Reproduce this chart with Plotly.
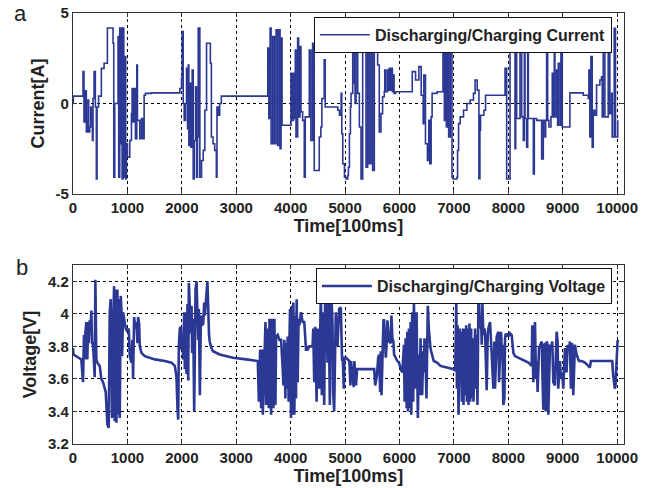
import plotly.graph_objects as go

# ---------------- data ----------------
time_current = [
    0, 5, 184, 202, 227, 245, 264, 276, 288, 307, 325, 337, 356, 368, 387, 411, 429, 442, 470, 521,
    571, 632, 736, 749, 767, 828, 840, 859, 877, 890, 902, 920, 933, 951, 969, 982, 1000, 1043, 1074, 1086,
    1104, 1123, 1147, 1172, 1184, 1227, 1258, 1288, 1307, 1331, 1442, 1963, 1994, 2006, 2025, 2043, 2067, 2086, 2104, 2117,
    2129, 2147, 2166, 2190, 2209, 2227, 2252, 2270, 2288, 2301, 2331, 2362, 2393, 2423, 2454, 2524, 2543, 2573, 2604, 2634,
    2646, 2665, 2695, 2726, 3579, 3598, 3622, 3640, 3671, 3701, 3732, 3762, 3793, 3805, 3823, 3842, 4006, 4024, 4049, 4067,
    4085, 4098, 4128, 4146, 4171, 4189, 4220, 4250, 4268, 4342, 4372, 4403, 4433, 4525, 4555, 4573, 4616, 4634, 4866, 4896,
    4927, 4939, 4957, 4988, 5018, 5049, 5061, 5079, 5098, 5110, 5140, 5171, 5183, 5201, 5232, 5262, 5293, 5323, 5384, 5415,
    5445, 5476, 5506, 5537, 5598, 5628, 5659, 5689, 5720, 5729, 5748, 5781, 5793, 5811, 5830, 5851, 5869, 5888, 5900, 5930,
    6234, 6295, 6356, 6398, 6435, 6447, 6477, 6513, 6538, 6556, 6581, 6599, 6690, 6799, 6824, 6842, 6860, 6884, 6903, 6933,
    6964, 6982, 7055, 7067, 7085, 7115, 7176, 7237, 7298, 7359, 7389, 7428, 7459, 7477, 7489, 7550, 7581, 7939, 7969, 8031,
    8122, 8135, 8153, 8214, 8245, 8275, 8294, 8306, 8336, 8355, 8367, 8459, 8477, 8520, 8612, 8642, 8673, 8685, 8703, 8722,
    8746, 8783, 8807, 8826, 8844, 8856, 8887, 8905, 8917, 8948, 8966, 8991, 9131, 9376, 9468, 9480, 9498, 9517, 9541, 9560,
    9590, 9621, 9682, 9712, 9725, 9743, 9774, 9835, 9865, 9884, 9896, 9908, 9945, 9969, 10010,
]
current = [
    0.0, 0.41, 1.76, -1.02, 0.70, -1.57, -0.93, 0.19, -1.57, -1.30, -0.19, -0.74, -2.04, 0.28, 1.76, -0.19, -4.17, -0.19, 0.41, 1.94,
    2.22, 4.17, 3.33, -4.07, 0.0, 3.70, -4.07, 4.17, -2.22, 4.17, -4.17, 4.17, -4.07, 2.59, -4.17, -2.22, -2.96, -2.04, -0.56, 0.83,
    -1.02, 0.83, -1.94, 2.13, -0.93, -1.94, -0.83, -1.94, 0.46, 0.56, 0.59, 0.83, 1.39, 3.98, 0.0, -0.93, 0.0, 1.94, -1.39, 2.13,
    -2.31, 1.11, -2.41, 1.85, -4.17, -2.04, 0.93, -4.07, -1.85, 4.17, -4.07, -3.15, -2.59, -0.37, 3.33, 2.22, -1.85, -2.22, -2.59, -4.07,
    -0.19, -0.65, 0.0, 0.41, 3.06, -0.83, 4.17, -2.22, 3.70, -2.22, 4.07, -2.31, 4.07, -2.50, 3.61, -1.20, 1.67, -0.93, 1.67, -0.83,
    2.96, -1.85, 3.61, -0.74, 3.15, -0.46, -0.93, -4.07, -0.74, 2.96, -2.04, 3.33, -3.70, -1.85, -1.30, 0.28, 2.41, -0.19, -0.37, -0.65,
    0.56, -1.67, -3.33, -4.07, -4.17, -3.98, -3.52, -1.67, -0.19, 0.56, 4.15, 1.11, 0.0, 4.15, 0.56, -1.30, -4.17, 4.15, -3.52, 4.15,
    -3.33, 4.15, -3.70, 3.33, 2.13, -1.57, -0.56, 0.37, 0.65, 1.85, 0.65, 1.85, 0.74, 1.94, 0.74, 1.94, 0.65, 1.57, 0.56, 0.65,
    1.76, 1.30, 2.04, 0.46, -1.11, 1.57, -2.22, -3.15, -0.93, -3.33, -0.74, 0.56, 0.65, 3.06, -0.93, 4.15, -1.30, 4.15, -1.85, 4.15,
    -4.07, -4.17, -4.07, -2.59, -1.11, -0.74, -0.37, 0.0, 0.19, 0.56, 1.30, 0.74, -4.15, -1.48, -0.65, -0.37, 0.46, 1.94, -4.17, 4.15,
    -2.50, 4.15, -0.83, 4.15, -0.74, -2.04, 3.06, -0.83, -2.41, 2.78, -0.83, -3.89, -0.83, -0.93, -3.06, -0.93, -1.85, -0.93, 4.15, -0.93,
    -1.30, -0.74, 1.67, -0.74, 3.15, -0.74, 1.85, -1.20, 2.22, -1.20, 4.15, -1.30, 0.59, 0.46, 0.28, 1.85, -1.85, 2.59, -2.41, -0.37,
    -0.65, 1.02, 1.30, 1.48, -0.74, 3.33, -0.74, 3.15, -0.56, -0.19, 0.56, -1.85, 4.15, -1.85, -0.93,
]

time_voltage = [
    0, 10, 153, 184, 202, 215, 227, 245, 264, 276, 288, 307, 325, 337, 350, 368, 399, 411, 429, 448,
    491, 521, 552, 583, 601, 632, 656, 675, 693, 706, 718, 736, 755, 767, 779, 798, 816, 828, 840, 859,
    877, 890, 902, 920, 951, 969, 1000, 1025, 1043, 1074, 1092, 1104, 1123, 1147, 1166, 1184, 1196, 1215, 1227, 1258,
    1319, 1503, 1687, 1810, 1871, 1902, 1920, 1933, 1945, 1963, 1982, 1994, 2012, 2025, 2043, 2055, 2067, 2086, 2104, 2117,
    2129, 2147, 2166, 2178, 2190, 2209, 2227, 2252, 2270, 2288, 2301, 2313, 2331, 2350, 2362, 2393, 2411, 2423, 2454, 2470,
    2500, 2512, 2543, 2573, 2695, 2939, 3183, 3396, 3415, 3439, 3457, 3476, 3488, 3518, 3537, 3549, 3579, 3598, 3610, 3640,
    3659, 3671, 3683, 3701, 3720, 3732, 3762, 3793, 3823, 3854, 3866, 3884, 3902, 3915, 3927, 3945, 3963, 3976, 3988, 4006,
    4024, 4037, 4049, 4067, 4085, 4098, 4110, 4128, 4146, 4159, 4189, 4220, 4250, 4281, 4311, 4342, 4403, 4415, 4433, 4451,
    4476, 4494, 4525, 4555, 4573, 4585, 4616, 4634, 4659, 4677, 4695, 4720, 4738, 4768, 4781, 4799, 4817, 4829, 4860, 4890,
    4921, 4945, 4957, 4976, 4988, 5018, 5049, 5079, 5097, 5109, 5140, 5158, 5170, 5182, 5201, 5219, 5231, 5535, 5553, 5584,
    5608, 5626, 5644, 5657, 5669, 5687, 5705, 5717, 5729, 5748, 5766, 5778, 5809, 5839, 5851, 5869, 5888, 5900, 5930, 5960,
    5991, 6021, 6052, 6082, 6094, 6112, 6131, 6143, 6155, 6173, 6192, 6204, 6216, 6234, 6252, 6264, 6277, 6295, 6313, 6325,
    6337, 6356, 6374, 6386, 6398, 6416, 6435, 6447, 6459, 6477, 6495, 6520, 6538, 6556, 6568, 6581, 6617, 6629, 6690, 6751,
    6872, 6994, 7024, 7043, 7055, 7067, 7085, 7103, 7115, 7127, 7146, 7164, 7176, 7188, 7207, 7225, 7237, 7249, 7267, 7285,
    7298, 7316, 7328, 7346, 7359, 7389, 7407, 7420, 7432, 7450, 7462, 7480, 7498, 7511, 7523, 7541, 7560, 7572, 7602, 7621,
    7633, 7664, 7682, 7694, 7725, 7743, 7755, 7786, 7817, 7829, 7847, 7865, 7878, 7890, 7908, 7927, 7939, 7951, 7969, 7988,
    8000, 8031, 8061, 8092, 8122, 8183, 8245, 8306, 8367, 8428, 8440, 8459, 8477, 8489, 8508, 8520, 8538, 8563, 8612, 8642,
    8661, 8673, 8685, 8703, 8722, 8734, 8765, 8783, 8807, 8826, 8856, 8887, 8905, 8917, 8948, 8966, 8991, 9009, 9040, 9070,
    9089, 9113, 9131, 9150, 9162, 9174, 9193, 9211, 9223, 9254, 9272, 9297, 9346, 9407, 9468, 9498, 9517, 9712, 9896, 9908,
    9927, 9945, 9957, 9969, 9988, 10006, 10018,
]
voltage = [
    3.79, 3.75, 3.72, 3.58, 3.87, 3.72, 3.88, 3.95, 3.72, 3.95, 3.82, 3.96, 3.91, 4.02, 3.82, 3.82, 3.61, 4.21, 3.72, 3.70,
    3.68, 3.60, 3.58, 3.54, 3.52, 3.32, 3.30, 4.01, 4.09, 3.72, 3.36, 3.91, 4.17, 3.34, 4.15, 3.33, 4.15, 3.38, 4.09, 3.36,
    4.11, 4.03, 3.74, 4.01, 3.93, 3.91, 3.89, 3.91, 3.74, 3.70, 3.84, 3.60, 3.98, 3.91, 3.95, 3.82, 3.98, 3.94, 3.80, 3.76,
    3.74, 3.72, 3.71, 3.70, 3.68, 3.61, 3.42, 3.35, 3.80, 3.91, 3.92, 3.78, 3.84, 3.72, 4.01, 3.66, 4.01, 3.63, 4.06, 3.59,
    4.19, 3.95, 3.88, 4.05, 3.76, 3.97, 3.40, 4.15, 4.20, 3.99, 3.84, 4.03, 3.50, 3.99, 3.93, 3.94, 4.07, 3.99, 4.18, 4.20,
    3.87, 3.83, 3.79, 3.77, 3.75, 3.73, 3.72, 3.71, 3.46, 3.78, 3.42, 3.78, 3.38, 3.80, 3.95, 3.44, 3.91, 3.42, 3.97, 3.38,
    3.97, 3.82, 3.42, 3.97, 3.44, 3.86, 3.87, 3.84, 3.84, 3.66, 3.56, 3.84, 3.48, 3.82, 3.54, 3.86, 3.46, 3.80, 4.03, 3.36,
    4.05, 3.38, 4.07, 3.38, 3.99, 3.48, 4.09, 3.58, 3.97, 3.93, 4.01, 3.95, 3.95, 3.78, 3.78, 3.80, 3.80, 3.91, 3.58, 3.92,
    3.46, 3.91, 3.54, 4.15, 3.50, 4.01, 3.44, 4.15, 4.01, 3.70, 4.11, 3.44, 4.19, 3.95, 3.52, 3.40, 3.91, 4.01, 3.80, 4.03,
    4.04, 3.71, 3.73, 3.54, 3.73, 3.73, 3.72, 3.71, 3.56, 3.71, 3.60, 3.55, 3.71, 3.66, 3.56, 3.66, 3.66, 3.66, 3.56, 3.62,
    3.73, 3.75, 3.52, 3.77, 3.50, 3.81, 3.96, 3.96, 3.81, 3.73, 3.83, 3.96, 3.83, 3.82, 3.99, 3.85, 3.83, 3.75, 3.73, 3.71,
    3.70, 3.66, 3.64, 3.81, 3.46, 3.85, 3.42, 3.89, 3.40, 3.91, 3.42, 3.95, 3.38, 4.01, 3.46, 4.09, 3.81, 3.54, 4.01, 3.46,
    3.36, 3.75, 3.50, 3.85, 3.60, 3.50, 3.77, 3.64, 3.85, 3.75, 3.48, 4.05, 3.91, 3.81, 3.79, 3.77, 3.73, 3.71, 3.70, 3.68,
    3.67, 3.66, 3.65, 4.07, 3.54, 3.93, 3.38, 3.91, 3.71, 3.89, 3.46, 3.91, 3.44, 3.91, 3.50, 3.93, 3.46, 3.91, 3.44, 3.94,
    3.46, 3.91, 3.48, 3.85, 3.46, 3.91, 3.54, 3.87, 3.44, 4.08, 4.07, 3.91, 3.97, 3.81, 4.06, 3.87, 3.91, 3.88, 3.53, 3.87,
    3.91, 3.95, 3.83, 3.83, 3.54, 3.83, 3.54, 3.86, 3.89, 3.58, 3.81, 3.89, 3.79, 3.81, 3.44, 3.48, 3.85, 3.88, 3.86, 3.88,
    3.86, 3.88, 3.87, 3.76, 3.74, 3.73, 3.72, 3.71, 3.70, 3.68, 3.93, 3.58, 3.91, 3.95, 3.60, 3.71, 3.52, 3.79, 3.83, 3.41,
    3.81, 3.82, 3.40, 3.83, 3.81, 3.38, 3.81, 3.79, 3.83, 3.58, 3.56, 3.89, 3.83, 3.54, 3.71, 3.60, 3.64, 3.54, 3.79, 3.64,
    3.81, 3.77, 3.83, 3.54, 3.82, 3.81, 3.50, 3.81, 3.81, 3.75, 3.73, 3.71, 3.71, 3.70, 3.68, 3.67, 3.71, 3.71, 3.71, 3.71,
    3.62, 3.58, 3.54, 3.56, 3.78, 3.83, 3.84,
]

x_ticks = [0, 1000, 2000, 3000, 4000, 5000, 6000, 7000, 8000, 9000, 10000]
x_tick_text = ["0", "1000", "2000", "3000", "4000", "5000", "6000", "7000", "8000", "9000", "10000"]
current_ticks = [-5, 0, 5]
current_tick_text = ["-5", "0", "5"]
voltage_ticks = [3.2, 3.4, 3.6, 3.8, 4.0, 4.2]
voltage_tick_text = ["3.2", "3.4", "3.6", "3.8", "4", "4.2"]

# ---------------- figure ----------------
LINE = "#2B3894"
FONT = "Liberation Sans, Arial, sans-serif"
TXT = "#222222"
W, H = 658, 488
ML, MR, MT, MB = 73, 34, 13, 44

fig = go.Figure()
fig.add_trace(go.Scatter(
    x=time_current, y=current, mode="lines", line=dict(color=LINE, width=1.6, shape="hv"),
    name="Discharging/Charging Current", xaxis="x", yaxis="y", legend="legend"))
fig.add_trace(go.Scatter(
    x=time_voltage, y=voltage, mode="lines", line=dict(color=LINE, width=2.6),
    name="Discharging/Charging Voltage", xaxis="x2", yaxis="y2", legend="legend2"))

axis_common = dict(
    showline=True, linecolor="#333333", linewidth=1.2, mirror="ticks",
    ticks="inside", ticklen=4, tickcolor="#333333",
    showgrid=True, gridcolor="#000000", griddash="dot", gridwidth=1,
    zeroline=False, automargin=False,
    tickfont=dict(family=FONT, size=15, color=TXT, weight="bold"),
)
title_font = dict(family=FONT, size=18, color=TXT, weight="bold")

plot_w = W - ML - MR
plot_h = H - MT - MB

fig.update_layout(
    width=W, height=H,
    margin=dict(l=ML, r=MR, t=MT, b=MB, autoexpand=False),
    paper_bgcolor="white", plot_bgcolor="white",
    font=dict(family=FONT, color=TXT),
    xaxis=dict(axis_common, domain=[0, 1], range=[0, 10125], tickvals=x_ticks, ticktext=x_tick_text,
               anchor="y", title=dict(text="Time[100ms]", font=title_font, standoff=2)),
    yaxis=dict(axis_common, domain=[0.58, 1.0], range=[-5, 5], tickvals=current_ticks,
               ticktext=current_tick_text, anchor="x",
               title=dict(text="Current[A]", font=title_font, standoff=6)),
    xaxis2=dict(axis_common, domain=[0, 1], range=[0, 10125], tickvals=x_ticks, ticktext=x_tick_text,
                anchor="y2", title=dict(text="Time[100ms]", font=title_font, standoff=2)),
    yaxis2=dict(axis_common, domain=[0.0, 0.4153], range=[3.2, 4.3], tickvals=voltage_ticks,
                ticktext=voltage_tick_text, anchor="x2",
                title=dict(text="Voltage[V]", font=title_font, standoff=6)),
    legend=dict(x=0.978, y=0.991, xanchor="right", yanchor="top",
                bgcolor="white", bordercolor="#111111", borderwidth=1,
                font=dict(family=FONT, size=16, color=TXT, weight="bold"),
                itemwidth=50, tracegroupgap=0),
    legend2=dict(x=0.978, y=0.408, xanchor="right", yanchor="top",
                 bgcolor="white", bordercolor="#111111", borderwidth=1,
                 font=dict(family=FONT, size=16, color=TXT, weight="bold"),
                 itemwidth=50, tracegroupgap=0),
    showlegend=True,
    annotations=[
        dict(text=letter, x=(px - ML) / plot_w, y=1 - (py - MT) / plot_h,
             xref="paper", yref="paper", showarrow=False, xanchor="center", yanchor="middle",
             font=dict(family=FONT, size=22, color=TXT))
        for letter, px, py in [("a", 20, 14), ("b", 22, 267)]
    ],
)

fig.write_html("out.html")
